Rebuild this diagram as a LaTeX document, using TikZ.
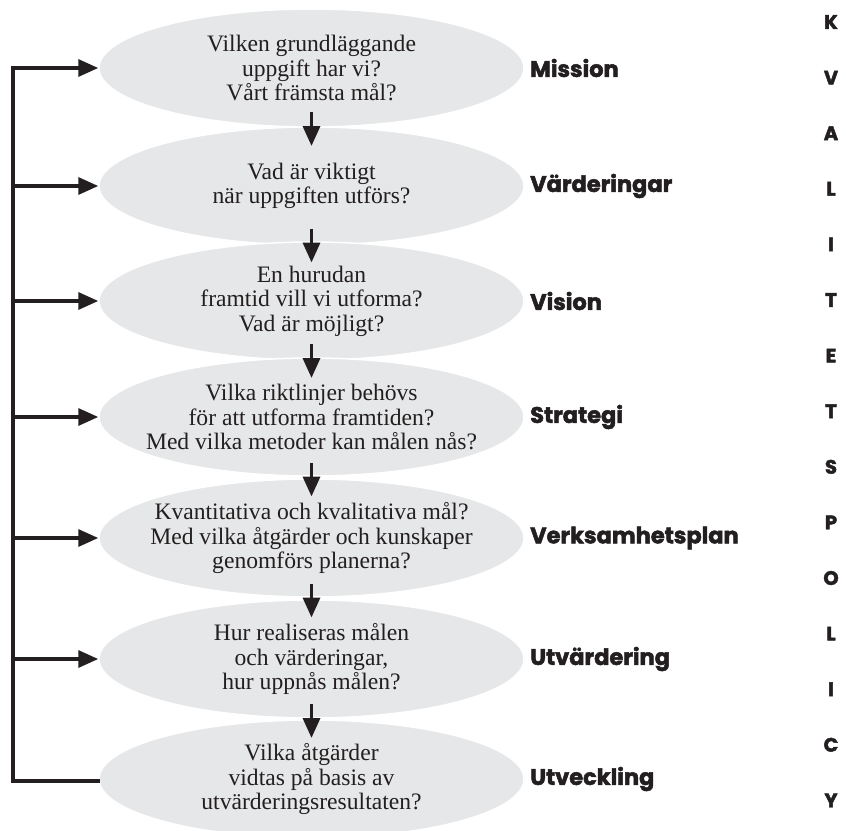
\documentclass[tikz,border=0pt]{standalone}
\usepackage{fontspec}
\setmainfont{Liberation Serif}
\newfontfamily\labfont{Poppins}[BoldFeatures={FakeBold=2.2}]
\usetikzlibrary{arrows.meta,shapes.geometric,calc}
\definecolor{ellfill}{RGB}{230,231,232}
\definecolor{ink}{RGB}{35,31,32}
\begin{document}
\begin{tikzpicture}[x=1pt,y=-1pt,
  ell/.style={ellipse, minimum width=425pt, minimum height=118pt, inner sep=0pt,
    fill=ellfill, draw=white, line width=1.5pt},
  etext/.style={align=center, text=ink, inner sep=0pt,
    font=\fontsize{23.6}{24.5}\selectfont},
  lab/.style={anchor=west, inner sep=0pt, text=ink, font=\labfont\bfseries\fontsize{22.5}{24}\selectfont},
  vlet/.style={inner sep=0pt, text=ink, font=\labfont\bfseries\fontsize{19.5}{20}\selectfont},
  fbline/.style={draw=ink, line width=3.3pt, line cap=rect},
  fbarrow/.style={draw=ink, line width=3.3pt, -{Triangle[length=20pt,width=17pt]}},
  downarrow/.style={draw=ink, line width=3.5pt, -{Triangle[length=20pt,width=17pt]}}
]
\useasboundingbox (0,0) rectangle (846,830);

\foreach \i/\y in {1/68,2/186,3/301,4/417,5/538,6/659,7/779}{
  \node[ell] (e\i) at (311.5,\y) {};
}
\node[etext] (t1) at (e1.center) {Vilken grundläggande\\uppgift har vi?\\Vårt främsta mål?};
\node[etext] (t2) at (e2.center) {Vad är viktigt\\när uppgiften utförs?};
\node[etext] (t3) at (e3.center) {En hurudan\\framtid vill vi utforma?\\Vad är möjligt?};
\node[etext] (t4) at (e4.center) {Vilka riktlinjer behövs\\för att utforma framtiden?\\Med vilka metoder kan målen nås?};
\node[etext] (t5) at (e5.center) {Kvantitativa och kvalitativa mål?\\Med vilka åtgärder och kunskaper\\genomförs planerna?};
\node[etext] (t6) at (e6.center) {Hur realiseras målen\\och värderingar,\\hur uppnås målen?};
\node[etext] (t7) at (e7.center) {Vilka åtgärder\\vidtas på basis av\\utvärderingsresultaten?};

\node[lab] (l1) at (530,68) {Mission};
\node[lab] (l2) at (530,186) {Värderingar};
\node[lab] (l3) at (530,301) {Vision};
\node[lab] (l4) at (530,417) {Strategi};
\node[lab] (l5) at (530,538) {Verksamhetsplan};
\node[lab] (l6) at (530,659) {Utvärdering};
\node[lab] (l7) at (530,779) {Utveckling};

\foreach \ch [count=\k from 0] in {K,V,A,L,I,T,E,T,S,P,O,L,I,C,Y}{
  \node[vlet] (k\k) at (831,22+55.6*\k) {\ch};
}

\foreach \i/\j in {1/2,2/3,3/4,4/5,5/6,6/7}{
  \coordinate (m\i) at ($(e\i.center)!0.5!(e\j.center)$);
  \draw[downarrow] ($(m\i)+(0,-15)$) -- ($(m\i)+(0,19)$);
}

\coordinate (corner) at (13,781);
\coordinate (top) at (13,68);
\draw[fbline] (e7.west |- corner) -- (corner) -- (top);
\foreach \i in {1,...,6}{
  \draw[fbarrow] (corner |- e\i.west) -- (e\i.west);
}
\end{tikzpicture}
\end{document}
